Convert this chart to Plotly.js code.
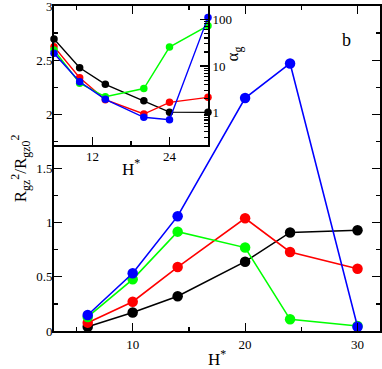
<!DOCTYPE html>
<html>
<head>
<meta charset="utf-8">
<script src="https://cdn.plot.ly/plotly-3.0.1.min.js"></script>
<style>body{margin:0;} #chart{width:382px;height:369px;}</style>
</head>
<body>
<div id="chart"></div>
<script>
const hStar = [6, 10, 14, 20, 24, 30]
// main panel: Rgz^2 / Rgz0^2
const ratioBlack = [0.04, 0.17, 0.32, 0.64, 0.91, 0.93]
const ratioRed = [0.077, 0.27, 0.59, 1.04, 0.73, 0.575]
const ratioGreen = [0.13, 0.477, 0.917, 0.77, 0.108, 0.046]
const ratioBlue = [0.148, 0.533, 1.06, 2.15, 2.47, 0.04]
// inset: alpha_g, log scale
const alphaBlack = [38, 9.2, 4.06, 1.81, 1.03, 1.02]
const alphaRed = [25.9, 5.6, 1.9, 0.94, 1.67, 2.14]
const alphaGreen = [22, 4.3, 2.2, 3.3, 25.5, 73]
const alphaBlue = [18.7, 4.6, 1.94, 0.80, 0.71, 110]
const colors = ['#000000', '#ff0000', '#00ff00', '#0000ff']

const serif = 'Liberation Serif, Times New Roman, serif'

const mainSeries = [ratioBlack, ratioRed, ratioGreen, ratioBlue]
const insetSeries = [alphaBlack, alphaRed, alphaGreen, alphaBlue]

const mainTraces = mainSeries.map((y, i) => ({
    mode: 'lines+markers',
    x: hStar,
    y: y,
    line: { color: colors[i], width: 1.6 },
    marker: { color: colors[i], size: 10.5 },
    cliponaxis: false
}))
const insetTraces = insetSeries.map((y, i) => ({
    mode: 'lines+markers',
    x: hStar,
    y: y,
    xaxis: 'x2',
    yaxis: 'y2',
    line: { color: colors[i], width: 1.4 },
    marker: { color: colors[i], size: 7.5 },
    cliponaxis: false
}))

const frame = {
    showline: true, linecolor: '#000', linewidth: 2,
    showgrid: false, zeroline: false,
    ticks: 'inside', tickcolor: '#000', tickwidth: 1.2, ticklen: 8,
    ticklabeloverflow: 'allow',
    tickfont: { family: serif, size: 13, color: '#000' }
}

Plotly.newPlot(
    document.getElementById('chart'),
    [...mainTraces, ...insetTraces],
    {
        width: 382,
        height: 369,
        margin: { l: 54, r: 2, t: 6, b: 38 },
        paper_bgcolor: '#ffffff',
        plot_bgcolor: 'rgba(0,0,0,0)',
        showlegend: false,
        font: { family: serif, color: '#000' },
        xaxis: {
            ...frame,
            domain: [0, 1],
            range: [3, 32],
            tick0: 0,
            dtick: 10,
            mirror: 'ticks',
            minor: { ticks: 'inside', dtick: 5, ticklen: 4, tickwidth: 1.2, tickcolor: '#000', showgrid: false },
            title: { text: 'H<sup>*</sup>', font: { size: 17 }, standoff: 9 }
        },
        yaxis: {
            ...frame,
            domain: [0, 1],
            range: [0, 3],
            dtick: 0.5,
            mirror: 'ticks',
            ticklabelstandoff: -3,
            minor: { ticks: 'inside', dtick: 0.25, ticklen: 4, tickwidth: 1.2, tickcolor: '#000', showgrid: false },
            title: { text: 'R<sub>gz</sub><sup>2</sup>/R<sub>gz0</sub><sup>2</sup>', font: { size: 17 }, standoff: 5 }
        },
        xaxis2: {
            ...frame,
            anchor: 'y2',
            domain: [0, 0.4724],
            range: [6, 30],
            tick0: 0,
            dtick: 12,
            mirror: true,
            ticklabelstandoff: -2,
            minor: { ticks: 'inside', dtick: 6, ticklen: 4, tickwidth: 1.2, tickcolor: '#000', showgrid: false },
            title: { text: 'H<sup>*</sup>', font: { size: 17 }, standoff: 0 }
        },
        yaxis2: {
            ...frame,
            anchor: 'x2',
            side: 'right',
            type: 'log',
            domain: [0.5723, 1],
            range: [-0.69, 2.285],
            dtick: 1,
            mirror: true,
            minor: { ticks: 'inside', dtick: 'D1', ticklen: 4, tickwidth: 1.2, tickcolor: '#000', showgrid: false }
        },
        annotations: [
            {
                xref: 'paper', yref: 'paper', x: 0.917, y: 0.932,
                text: 'b', showarrow: false,
                font: { family: serif, size: 18, color: '#000' }
            },
            {
                xref: 'paper', yref: 'paper', x: 0.552, y: 0.883,
                text: 'α<sub>g</sub>', showarrow: false, textangle: -90,
                font: { family: serif, size: 17, color: '#000' }
            }
        ]
    },
    { staticPlot: true }
)
</script>
</body>
</html>
